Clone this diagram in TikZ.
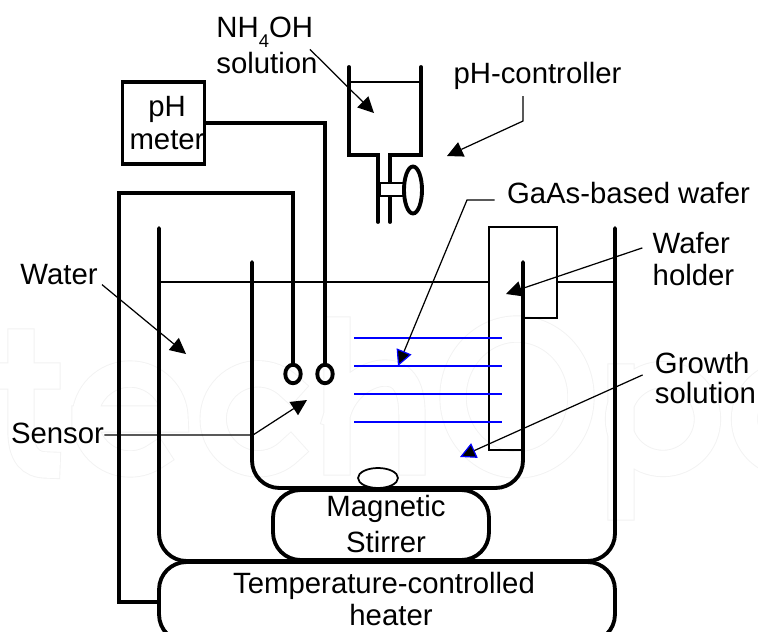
\documentclass[tikz,border=0pt]{standalone}
\usepackage{fontspec}
\setmainfont{Liberation Sans}
\usetikzlibrary{arrows.meta, shapes.geometric}

\tikzset{
    wall/.style={line width=2.2pt, line cap=round},
    thinline/.style={line width=0.6pt},
    wafer/.style={line width=1.4pt, blue},
    pointer/.style={line width=0.7pt, -{Triangle[length=9pt, width=9pt, line width=0pt]}},
    bluepointer/.style={line width=0.7pt, -{Triangle[length=9pt, width=9pt, line width=0.7pt, fill=black, color=blue]}},
    txt/.style={inner sep=0pt, align=center, font=\fontsize{16.7}{20.4}\selectfont},
    blob/.style={wall, draw, fill=white, rounded corners=0.55cm},
}

\begin{document}
\begin{tikzpicture}[x=0.02cm, y=-0.02cm]
        \clip (0,0) rectangle (758,632);
        \fill[white] (0,0) rectangle (758,632);

        % faint letters behind the drawing
        \draw[line width=0.5pt, gray!10, double=white, double distance=14.5pt, line cap=rect]
            (21,342)--(21,430) .. controls (21,455) and (30,465) .. (47,465)
            (-5,376)--(47,376)
            (85,419)--(175,419) arc[start angle=0, end angle=305, radius=0.9cm]
            (290,387) arc[start angle=45, end angle=315, radius=0.9cm]
            (337,330)--(337,462)
            (337,415) .. controls (345,385) and (370,373) .. (385,373) .. controls (405,373) and (412,390) .. (412,415) -- (412,462)
            (517,397) ellipse[x radius=1.28cm, y radius=1.36cm]
            (621,377)--(621,507)
            (663,419) circle[radius=0.89cm]
            (789,419) circle[radius=0.89cm];

        % wafer holder and water level
        \draw[thinline] (523,318)--(557,318)--(557,227)--(489,227)--(489,450)--(523,450);
        \draw[thinline] (159,282)--(489,282);
        \draw[thinline] (557,282)--(615,282);

        % wafers
        \foreach \y in {338, 366, 394, 422} {
            \draw[wafer] (354,\y)--(502,\y);
        }

        % beakers
        \draw[wall, rounded corners=0.55cm] (159,228)--(159,561)--(615,561)--(615,228);
        \draw[wall, rounded corners=0.55cm] (252,262)--(252,488)--(523,488)--(523,262);

        % stirrer and heater
        \node[blob, minimum width=4.32cm, minimum height=1.4cm] (stirrer) at (381,525) {};
        \node[blob, minimum width=9.12cm, minimum height=1.6cm] (heater) at (387,602) {};
        \node[line width=1pt, draw, fill=white, ellipse, inner sep=0pt, minimum width=0.8cm, minimum height=0.4cm] (magnet) at (378,478) {};
        \node[txt] (stirrertext) at (386,524) {Magnetic\\Stirrer};
        \node[txt] (heatertext) at (384,599) {Temperature-controlled\\[-2.2pt]\hspace*{8pt}heater};

        % sensors and meter
        \node[wall, draw, ellipse, inner sep=0pt, minimum width=0.31cm, minimum height=0.37cm] (sensora) at (293,374) {};
        \node[wall, draw, ellipse, inner sep=0pt, minimum width=0.31cm, minimum height=0.37cm] (sensorb) at (325,374) {};
        \node[txt, wall, draw, minimum width=1.54cm, minimum height=1.64cm] (meter) at (163.5,123) {\hspace*{4pt}pH\\[-2pt]\hspace*{4pt}meter};
        \draw[wall] (meter.east) -| (sensorb.north);
        \draw[wall] (heater.west) -| (119,193) -| (sensora.north);

        % controller
        \draw[wall] (349,67)--(349,155)--(378,155)--(378,222);
        \draw[wall] (421,67)--(421,155)--(390,155)--(390,222);
        \draw[thinline] (349,82)--(421,82);
        \draw[thinline, fill=white] (380,183) rectangle (405,196);
        \node[wall, draw, fill=white, ellipse, inner sep=0pt, minimum width=0.36cm, minimum height=0.94cm] (valve) at (413,190) {};

        % labels
        \node[txt, align=left] (nhsol) at (267,45) {NH\raisebox{-5.7pt}{\fontsize{10.5}{12}\selectfont 4}OH\\solution};
        \node[txt] (phctrl) at (537.5,76) {pH-controller};
        \node[txt] (gaas) at (628.5,193) {GaAs-based wafer};
        \node[txt, align=left] (holder) at (693.5,259) {Wafer\\[-2.2pt]holder};
        \node[txt, align=left] (growth) at (705.5,378) {Growth\\[-3.4pt]solution};
        \node[txt] (water) at (59,275) {Water};
        \node[txt] (sensor) at (57.5,433) {Sensor};

        % pointers
        \coordinate (nhtip) at (374,113);
        \coordinate (phtip) at (447,156);
        \coordinate (gaastip) at (398,366);
        \coordinate (holdertip) at (506,294);
        \coordinate (growthtip) at (460,457);
        \coordinate (watertip) at (186,354);
        \coordinate (sensortip) at (307,400);
        \draw[pointer] (nhsol.north east) ++(-8,33) -- (nhtip);
        \draw[pointer] (phctrl.south) ++(-14.5,6) -- ++(0,25) -- (phtip);
        \draw[bluepointer] (gaas.west) ++(-12,7) -- (467,200) -- (gaastip);
        \draw[pointer] (holder.north west) ++(-10,16) -- (holdertip);
        \draw[bluepointer] (growth.north west) ++(-12,23) -- (growthtip);
        \draw[pointer] (water.south east) ++(4,-1) -- (watertip);
        \draw[pointer] (sensor.east) ++(0,2) -- (253,435) -- (sensortip);
\end{tikzpicture}
\end{document}
